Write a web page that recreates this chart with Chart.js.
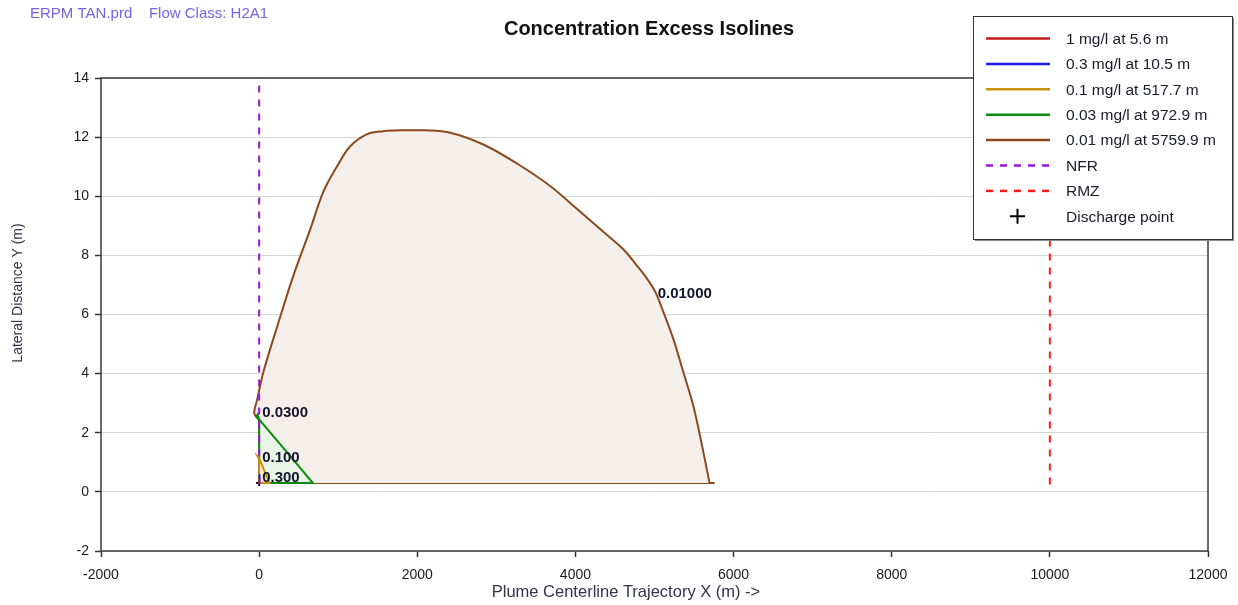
<!DOCTYPE html>
<html>
<head>
<meta charset="utf-8">
<title>Concentration Excess Isolines</title>
<script src="https://cdn.jsdelivr.net/npm/chart.js@4.4.1/dist/chart.umd.min.js"></script>
<style>
  html, body { margin: 0; padding: 0; background: #fff; }
  canvas { display: block; }
</style>
</head>
<body>
<canvas id="isoChart" width="1238" height="605"></canvas>
<script>
  // --- Isoline outlines: x = distance along centerline (m), y = lateral distance (m) ---
  const redX = [0, 5.6, 3, 0, 0];
  const redY = [0.3, 0.3, 0.4, 0.45, 0.3];

  const blueX = [0, 10.5, 5, 0, 0];
  const blueY = [0.3, 0.3, 0.5, 0.6, 0.3];

  const goldX = [0, 130, 60, 0, -20, 0, 0];
  const goldY = [0.3, 0.3, 0.75, 1.15, 1.2, 1.1, 0.3];

  const greenX = [0, 680, 340, 0, -35, -20, 0, 0];
  const greenY = [0.3, 0.3, 1.38, 2.45, 2.55, 2.62, 2.45, 0.3];

  // 0.01 contour: outer curve (right foot -> crest -> back down the x = 0 edge)
  const brownX = [5696, 5620, 5494, 5367, 5241, 5114, 5013, 4911, 4785, 4608, 4316, 4025,
    3684, 3266, 2835, 2418, 2100, 1800, 1570, 1367, 1152, 987, 810, 646, 430, 228, 51, -25, -63, -25, 0, 0];
  const brownY = [0.3, 1.32, 2.88, 4.03, 5.15, 6.07, 6.75, 7.19, 7.63, 8.20, 8.88, 9.56,
    10.34, 11.1, 11.75, 12.15, 12.23, 12.23, 12.20, 12.10, 11.69, 11.02, 10.14, 8.88, 7.29, 5.59, 4.03, 3.12, 2.68, 2.5, 2.45, 0.3];
  // its straight base along the centerline
  const brownBaseX = [0, 5760];
  const brownBaseY = [0.3, 0.3];

  // reference lines and discharge
  const nfrX = [0, 0];
  const nfrY = [0.25, 14];
  const rmzX = [10000, 10000];
  const rmzY = [0.25, 14];
  const dischargeX = [0];
  const dischargeY = [0.3];

  const seriesNames = ["1 mg/l at 5.6 m", "0.3 mg/l at 10.5 m", "0.1 mg/l at 517.7 m",
    "0.03 mg/l at 972.9 m", "0.01 mg/l at 5759.9 m", "NFR", "RMZ", "Discharge point"];

  // isoline value tags
  const contourLabels = ["0.01000", "0.0300", "0.100", "0.300"];
  const contourLabelX = [5040, 38, 38, 38];
  const contourLabelY = [6.7, 2.68, 1.15, 0.47];

  const xTicks = [-2000, 0, 2000, 4000, 6000, 8000, 10000, 12000];
  const yTicks = [-2, 0, 2, 4, 6, 8, 10, 12, 14];

  const headerText = "ERPM TAN.prd    Flow Class: H2A1";
  const chartTitle = "Concentration Excess Isolines";
  const xTitle = "Plume Centerline Trajectory X (m) ->";
  const yTitle = "Lateral Distance Y (m)";

  const FONT = "'Liberation Sans', Arial, sans-serif";

  function pts(xs, ys) {
    return xs.map((x, i) => ({ x, y: ys[i] }));
  }

  function outline(label, xs, ys, color, fillColor, order, tension) {
    return {
      label,
      data: pts(xs, ys),
      showLine: true,
      borderColor: color,
      backgroundColor: fillColor || "transparent",
      fill: fillColor ? "shape" : false,
      borderWidth: 2,
      pointRadius: 0,
      tension: tension || 0,
      order
    };
  }

  const datasets = [
    outline(seriesNames[0], redX, redY, "#c41e1e", null, 1),
    outline(seriesNames[1], blueX, blueY, "#1a1aff", null, 2),
    outline(seriesNames[2], goldX, goldY, "#c8900e", "rgba(250,240,215,0.9)", 3),
    outline(seriesNames[3], greenX, greenY, "#0d8a0d", "#eaf3e8", 5),
    outline(seriesNames[4], brownX, brownY, "#8b4a1e", "#f5efeb", 6, 0.35),
    {
      label: seriesNames[5], data: pts(nfrX, nfrY), showLine: true,
      borderColor: "#9b14e0", borderWidth: 2, borderDash: [7, 7], pointRadius: 0, fill: false, order: 4
    },
    {
      label: seriesNames[6], data: pts(rmzX, rmzY), showLine: true,
      borderColor: "#ff1a1a", borderWidth: 2, borderDash: [7, 7], pointRadius: 0, fill: false, order: 4
    },
    {
      label: seriesNames[7], data: pts(dischargeX, dischargeY), showLine: false,
      pointStyle: "cross", pointRadius: 3, borderColor: "#000", borderWidth: 2, order: 8
    },
    // base of the 0.01 contour, not listed in the legend
    Object.assign(outline("", brownBaseX, brownBaseY, "#8b4a1e", null, 6), { inLegend: false })
  ];

  // --- Extra drawing: header, title, axis titles, frame, contour tags, legend box ---
  const decorations = {
    id: "decorations",
    beforeDraw(chart) {
      const ctx = chart.ctx;
      ctx.save();
      ctx.fillStyle = "#fff";
      ctx.fillRect(0, 0, chart.width, chart.height);
      ctx.restore();
    },
    afterDraw(chart) {
      const { ctx, chartArea: a, scales } = chart;
      ctx.save();

      // frame round the plot area
      ctx.strokeStyle = "#3a3a3a";
      ctx.lineWidth = 1.5;
      ctx.strokeRect(a.left, a.top, a.right - a.left, a.bottom - a.top);

      // header and title
      ctx.textBaseline = "middle";
      ctx.textAlign = "left";
      ctx.fillStyle = "#7a62e6";
      ctx.font = "15px " + FONT;
      ctx.fillText(headerText, 30, 14);

      ctx.textAlign = "center";
      ctx.fillStyle = "#111";
      ctx.font = "bold 20px " + FONT;
      ctx.fillText(chartTitle, 649, 29);

      // axis titles
      ctx.fillStyle = "#33334a";
      ctx.font = "16.5px " + FONT;
      ctx.fillText(xTitle, 626, 592);
      ctx.save();
      ctx.translate(18, 293);
      ctx.rotate(-Math.PI / 2);
      ctx.font = "14px " + FONT;
      ctx.fillText(yTitle, 0, 0);
      ctx.restore();

      // contour value tags
      ctx.textAlign = "left";
      ctx.fillStyle = "#14142e";
      ctx.font = "bold 15px " + FONT;
      contourLabels.forEach((t, i) => {
        ctx.fillText(t, scales.x.getPixelForValue(contourLabelX[i]), scales.y.getPixelForValue(contourLabelY[i]));
      });

      // legend box
      const box = { left: 973, top: 16, w: 259, h: 223 };
      ctx.fillStyle = "#8c8c8c";
      ctx.fillRect(box.left + 2, box.top + 2, box.w, box.h);
      ctx.fillStyle = "#fff";
      ctx.fillRect(box.left, box.top, box.w, box.h);
      ctx.strokeStyle = "#333";
      ctx.lineWidth = 1;
      ctx.strokeRect(box.left + 0.5, box.top + 0.5, box.w, box.h);

      ctx.font = "15.5px " + FONT;
      chart.data.datasets.filter(ds => ds.inLegend !== false).forEach((ds, i) => {
        const y = 38.5 + i * 25.4;
        if (ds.showLine) {
          ctx.strokeStyle = ds.borderColor;
          ctx.lineWidth = 2.5;
          ctx.setLineDash(ds.borderDash || []);
          ctx.beginPath();
          ctx.moveTo(986, y);
          ctx.lineTo(1050, y);
          ctx.stroke();
          ctx.setLineDash([]);
        } else {
          ctx.strokeStyle = "#000";
          ctx.lineWidth = 2;
          ctx.beginPath();
          ctx.moveTo(1010, y);
          ctx.lineTo(1025, y);
          ctx.moveTo(1017.5, y - 7.5);
          ctx.lineTo(1017.5, y + 7.5);
          ctx.stroke();
        }
        ctx.fillStyle = "#1a1a2a";
        ctx.fillText(ds.label, 1066, y + 1);
      });

      ctx.restore();
    }
  };

  new Chart(document.getElementById("isoChart"), {
    type: "scatter",
    data: { datasets },
    plugins: [decorations],
    options: {
      responsive: false,
      animation: false,
      layout: { padding: { top: 78, right: 30, left: 0, bottom: 0 } },
      plugins: {
        legend: { display: false },
        tooltip: { enabled: false },
        title: { display: false }
      },
      scales: {
        x: {
          type: "linear",
          min: xTicks[0],
          max: xTicks[xTicks.length - 1],
          afterFit: s => { s.height = 54; },
          afterBuildTicks: s => { s.ticks = xTicks.map(v => ({ value: v })); },
          border: { display: false },
          grid: { drawOnChartArea: false, tickColor: "#333", tickLength: 6, tickWidth: 1.5 },
          ticks: {
            color: "#1a1a1a", font: { family: FONT, size: 14 }, padding: 10, maxRotation: 0,
            callback: v => String(v)
          }
        },
        y: {
          type: "linear",
          min: yTicks[0],
          max: yTicks[yTicks.length - 1],
          afterFit: s => { s.width = 101; },
          afterBuildTicks: s => { s.ticks = yTicks.map(v => ({ value: v })); },
          border: { display: false },
          grid: { color: "#d6d6d6", lineWidth: 1, tickColor: "#333", tickLength: 6, tickWidth: 1.5 },
          ticks: { color: "#1a1a1a", font: { family: FONT, size: 14 }, padding: 6, callback: v => String(v) }
        }
      }
    }
  });
</script>
</body>
</html>
